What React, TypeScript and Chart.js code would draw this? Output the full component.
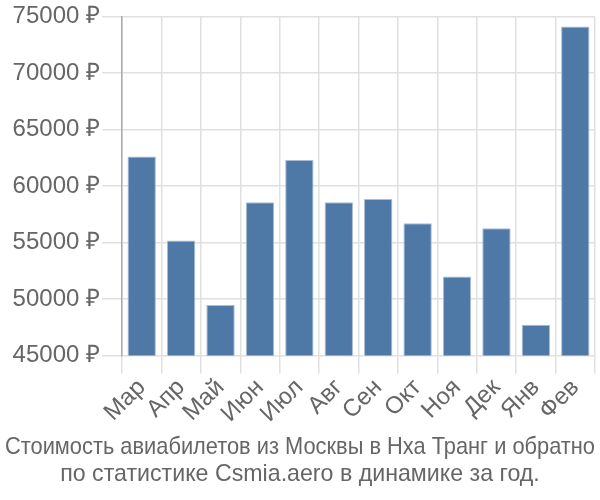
import React, { useEffect, useRef } from "react";
import { Chart, registerables } from "chart.js";

Chart.register(...registerables);

const categories = ["Мар", "Апр", "Май", "Июн", "Июл", "Авг", "Сен", "Окт", "Ноя", "Дек", "Янв", "Фев"];
const prices = [62600, 55180, 49460, 58550, 62300, 58550, 58840, 56700, 51980, 56260, 47730, 74100];
const titleLines = [
  "Стоимость авиабилетов из Москвы в Нха Транг и обратно",
  "по статистике Csmia.aero в динамике за год.",
];

export default function App() {
  const ref = useRef<HTMLCanvasElement>(null);
  useEffect(() => {
    document.body.style.margin = "0";
    const chart = new Chart(ref.current!, {
      type: "bar",
      data: {
        labels: categories,
        datasets: [
          {
            data: prices,
            backgroundColor: "#4e79a7",
            borderColor: "#a9bed6",
            borderWidth: 1,
            categoryPercentage: 0.8,
            barPercentage: 0.9,
          },
        ],
      },
      options: {
        animation: false,
        responsive: false,
        layout: { padding: { left: 5, right: 5, top: 4, bottom: 11 } },
        plugins: {
          legend: { display: false },
          tooltip: { enabled: false },
          title: {
            display: true,
            position: "bottom",
            text: titleLines,
            color: "#666",
            font: { family: "Liberation Sans, Arial, sans-serif", size: 23.2, weight: "normal" },
            padding: { top: 5, bottom: 0 },
          },
        },
        scales: {
          x: {
            offset: true,
            grid: { color: "#e0e0e0", lineWidth: 1.5, offset: true, tickLength: 18 },
            border: { color: "#e0e0e0" },
            ticks: {
              color: "#666",
              font: { family: "Liberation Sans, Arial, sans-serif", size: 24 },
              maxRotation: 45,
              minRotation: 45,
              autoSkip: false,
              padding: 0,
            },
          },
          y: {
            min: 45000,
            max: 75000,
            afterFit: (scale: any) => {
              scale.width = 117;
            },
            grid: { color: "#e0e0e0", lineWidth: 1.5, tickLength: 20 },
            border: { color: "#aaa", width: 1.5 },
            ticks: {
              stepSize: 5000,
              color: "#666",
              font: { family: "Liberation Sans, Arial, sans-serif", size: 24 },
              padding: 2,
              callback: (v: any) => `${v} ₽`,
            },
          },
        },
      },
    });
    return () => chart.destroy();
  }, []);
  return (
    <div style={{ width: 600, height: 500 }}>
      <canvas ref={ref} width={600} height={500} style={{ display: "block" }} />
    </div>
  );
}
